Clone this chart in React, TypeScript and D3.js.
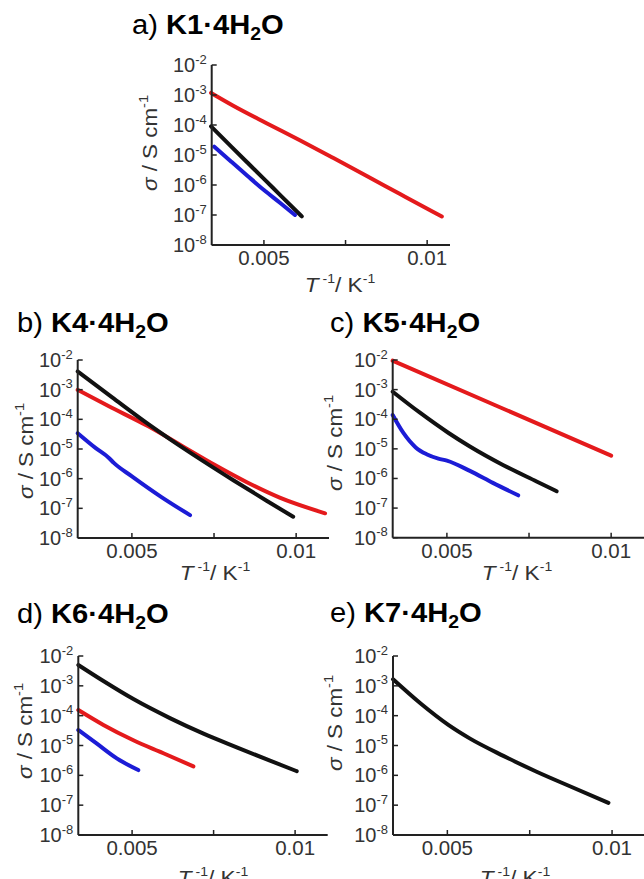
import React from 'react';
import * as d3 from 'd3';

// ---------- data: [T^-1 (K^-1), sigma (S cm^-1)] ----------
const K1_red = [[0.00338, 1.17e-3], [0.00406, 4.4e-4], [0.00508, 1.15e-4], [0.0061, 3.1e-5], [0.00713, 7.9e-6], [0.00815, 2.0e-6], [0.00917, 5.0e-7], [0.01019, 1.26e-7], [0.01045, 8.9e-8]];
const K1_black = [[0.00338, 9e-5], [0.0040, 1.9e-5], [0.0045, 5.5e-6], [0.0050, 1.6e-6], [0.0055, 4.6e-7], [0.00616, 9e-8]];
const K1_blue = [[0.00348, 1.9e-5], [0.0040, 6e-6], [0.0045, 2.0e-6], [0.0050, 6.8e-7], [0.0055, 2.5e-7], [0.00595, 1e-7]];

const K4_black = [[0.00335, 4.1e-3], [0.0044, 5.5e-4], [0.0055, 6.9e-5], [0.0062, 2.0e-5], [0.0071, 4.4e-6], [0.0081, 8.7e-7], [0.0091, 1.8e-7], [0.00991, 5.2e-8]];
const K4_red = [[0.00335, 9.8e-4], [0.0043, 2.75e-4], [0.0055, 5.8e-5], [0.0065, 1.32e-5], [0.0075, 3.0e-6], [0.0085, 7.6e-7], [0.0095, 2.3e-7], [0.01088, 6.8e-8]];
const K4_blue = [[0.00335, 3.4e-5], [0.0039, 1.07e-5], [0.0043, 5.0e-6], [0.00445, 3.4e-6], [0.0050, 1.2e-6], [0.0059, 2.4e-7], [0.00677, 5.9e-8]];

const K5_red = [[0.00335, 9.5e-3], [0.0067, 2.3e-4], [0.0100, 5.9e-6]];
const K5_black = [[0.00335, 8.5e-4], [0.00418, 1.66e-4], [0.00504, 3.5e-5], [0.0057, 1.2e-5], [0.00672, 2.8e-6], [0.00773, 7.9e-7], [0.00834, 3.7e-7]];
const K5_blue = [[0.00335, 1.38e-4], [0.00367, 3.5e-5], [0.00405, 1.12e-5], [0.00438, 6.6e-6], [0.00474, 4.7e-6], [0.005, 4.0e-6], [0.0057, 1.8e-6], [0.0064, 7.1e-7], [0.00717, 2.7e-7]];

const K6_black = [[0.00335, 5.0e-3], [0.00412, 1.45e-3], [0.00504, 3.6e-4], [0.00616, 8.3e-5], [0.00719, 2.5e-5], [0.00821, 8.7e-6], [0.00923, 3.1e-6], [0.01005, 1.38e-6]];
const K6_red = [[0.00335, 1.55e-4], [0.00412, 4.9e-5], [0.00504, 1.5e-5], [0.00596, 5.5e-6], [0.00688, 2.0e-6]];
const K6_blue = [[0.00335, 3.3e-5], [0.00391, 1.17e-5], [0.00453, 3.7e-6], [0.00519, 1.5e-6]];

const K7_black = [[0.00335, 1.66e-3], [0.00418, 2.6e-4], [0.00503, 4.9e-5], [0.00569, 1.7e-5], [0.0067, 4.5e-6], [0.00771, 1.32e-6], [0.00872, 4.3e-7], [0.00989, 1.2e-7]];

const yTickExps = [-2, -3, -4, -5, -6, -7, -8];
const xTickValues = [0.005, 0.0075, 0.01];
const xTickLabels = ['0.005', '', '0.01'];
const panelLetters = ['a)', 'b)', 'c)', 'd)', 'e)'];
const compounds = ['K1', 'K4', 'K5', 'K6', 'K7'];

const RED = '#e41a1c';
const BLUE = '#1c1cd6';
const BLACK = '#111111';

// ---------- layout ----------
const layouts = [
  { x0: 211.7, x1: 450, xd: [0.0034, 0.0107], yT: 65, yB: 245, tx: 132, ty: 34, lx: 157, ly: 143, xlx: 340, xly: 292 },
  { x0: 77.7, x1: 329, xd: [0.00335, 0.011], yT: 360, yB: 538, tx: 17, ty: 332, lx: 33, ly: 451, xlx: 215, xly: 580 },
  { x0: 392.7, x1: 644, xd: [0.00335, 0.011], yT: 360, yB: 537.7, tx: 330, ty: 332, lx: 342, ly: 443, xlx: 517, xly: 580 },
  { x0: 78.3, x1: 327.7, xd: [0.00335, 0.011], yT: 656, yB: 835, tx: 17, ty: 623, lx: 32, ly: 731, xlx: 213, xly: 885 },
  { x0: 393, x1: 645, xd: [0.00335, 0.011], yT: 656, yB: 835, tx: 330, ty: 622, lx: 342, ly: 723, xlx: 515, xly: 885 },
];

const seriesByPanel = [
  [{ d: K1_red, c: RED }, { d: K1_black, c: BLACK }, { d: K1_blue, c: BLUE }],
  [{ d: K4_red, c: RED }, { d: K4_black, c: BLACK }, { d: K4_blue, c: BLUE }],
  [{ d: K5_red, c: RED }, { d: K5_black, c: BLACK }, { d: K5_blue, c: BLUE }],
  [{ d: K6_red, c: RED }, { d: K6_black, c: BLACK }, { d: K6_blue, c: BLUE }],
  [{ d: K7_black, c: BLACK }],
];

const FONT = "'Liberation Sans', Arial, Helvetica, sans-serif";
const AXIS = '#222';
const LABEL = '#333';

function Panel({ i }: { i: number }) {
  const L = layouts[i];
  const x = d3.scaleLinear().domain(L.xd).range([L.x0, L.x1]);
  const y = d3.scaleLog().domain([1e-8, 1e-2]).range([L.yB, L.yT]);
  const line = d3
    .line<number[]>()
    .x((p) => x(p[0]))
    .y((p) => y(p[1]))
    .curve(d3.curveMonotoneX);
  return (
    <g>
      {/* title */}
      <text transform={`translate(${L.tx},${L.ty}) scale(1.08,1)`} fontSize={27} fill="#000" fontFamily={FONT}>
        <tspan>{panelLetters[i] + ' '}</tspan>
        <tspan fontWeight="bold">{compounds[i] + '·4H'}</tspan>
        <tspan fontWeight="bold" fontSize={18} dy={6}>2</tspan>
        <tspan fontWeight="bold" dy={-6}>O</tspan>
      </text>
      {/* curves */}
      {seriesByPanel[i].map((s, k) => (
        <path key={k} d={line(s.d as number[][]) || ''} fill="none" stroke={s.c} strokeWidth={4} strokeLinecap="round" strokeLinejoin="round" />
      ))}
      {/* axes */}
      <line x1={L.x0} x2={L.x0} y1={L.yT} y2={L.yB} stroke={AXIS} strokeWidth={2} />
      <line x1={L.x0} x2={L.x1} y1={L.yB} y2={L.yB} stroke={AXIS} strokeWidth={2} />
      {yTickExps.map((e) => (
        <g key={e}>
          <line x1={L.x0} x2={L.x0 + 5} y1={y(Math.pow(10, e))} y2={y(Math.pow(10, e))} stroke={AXIS} strokeWidth={1.5} />
          <text x={L.x0 - 5} y={y(Math.pow(10, e)) + 7} textAnchor="end" fontSize={20} fill={LABEL} fontFamily={FONT}>
            <tspan>10</tspan>
            <tspan fontSize={13} dy={-8.5}>{String(e)}</tspan>
          </text>
        </g>
      ))}
      {xTickValues.map((v, k) => (
        <g key={v}>
          <line x1={x(v)} x2={x(v)} y1={L.yB} y2={L.yB - 5} stroke={AXIS} strokeWidth={1.5} />
          {xTickLabels[k] && (
            <text x={x(v)} y={L.yB + 20} textAnchor="middle" fontSize={20.5} fill={LABEL} fontFamily={FONT}>
              {xTickLabels[k]}
            </text>
          )}
        </g>
      ))}
      {/* axis titles */}
      <text transform={`translate(${L.xlx},${L.xly}) scale(1.08,1)`} textAnchor="middle" fontSize={21} fill={LABEL} fontFamily={FONT}>
        <tspan fontStyle="italic">T</tspan>
        <tspan fontSize={13} dy={-9}>{' -1'}</tspan>
        <tspan dy={9}>/ K</tspan>
        <tspan fontSize={13} dy={-9}>-1</tspan>
      </text>
      <text transform={`translate(${L.lx},${L.ly}) rotate(-90) scale(1.12,1)`} textAnchor="middle" fontSize={20} fill={LABEL} fontFamily={FONT}>
        <tspan fontStyle="italic">σ</tspan>
        <tspan>{' / S cm'}</tspan>
        <tspan fontSize={13} dy={-9}>-1</tspan>
      </text>
    </g>
  );
}

export default function App() {
  return (
    <svg width={644} height={879} style={{ position: 'absolute', left: 0, top: 0, background: '#fff' }}>
      <rect x={0} y={0} width={644} height={879} fill="#fff" />
      {layouts.map((_, i) => (
        <Panel key={i} i={i} />
      ))}
    </svg>
  );
}
